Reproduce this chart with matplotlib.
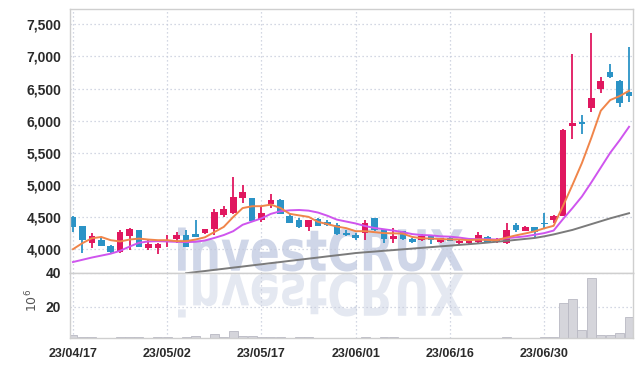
import numpy as np
import matplotlib
matplotlib.use('Agg')
import matplotlib.pyplot as plt
from matplotlib.textpath import TextPath
from matplotlib.patches import PathPatch
from matplotlib.font_manager import FontProperties, fontManager
from matplotlib.transforms import Affine2D, IdentityTransform
from matplotlib.ticker import FuncFormatter

# ---------------- data ----------------
dates = ['23/04/17', '23/04/18', '23/04/19', '23/04/20', '23/04/21', '23/04/24', '23/04/25', '23/04/26',
         '23/04/27', '23/04/28', '23/05/02', '23/05/03', '23/05/04', '23/05/08', '23/05/09', '23/05/10',
         '23/05/11', '23/05/12', '23/05/15', '23/05/16', '23/05/17', '23/05/18', '23/05/19', '23/05/22',
         '23/05/23', '23/05/24', '23/05/25', '23/05/26', '23/05/30', '23/05/31', '23/06/01', '23/06/02',
         '23/06/05', '23/06/07', '23/06/08', '23/06/09', '23/06/12', '23/06/13', '23/06/14', '23/06/15',
         '23/06/16', '23/06/19', '23/06/20', '23/06/21', '23/06/22', '23/06/23', '23/06/26', '23/06/27',
         '23/06/28', '23/06/29', '23/06/30', '23/07/03', '23/07/04', '23/07/05', '23/07/06', '23/07/07',
         '23/07/10', '23/07/11', '23/07/12', '23/07/13']

opens = [4505, 4360, 4090, 4140, 4045, 3950, 4210, 4297, 4025, 4025,
         4130, 4160, 4215, 4235, 4245, 4307, 4531, 4557, 4800, 4790,
         4453, 4703, 4765, 4515, 4453, 4340, 4465, 4430, 4375, 4245,
         4220, 4245, 4480, 4307, 4155, 4280, 4165, 4150, 4208, 4115,
         4177, 4089, 4089, 4114, 4183, 4125, 4089, 4375, 4286, 4340,
         4405, 4453, 4515, 5920, 5965, 6205, 6500, 6760, 6625, 6440]
closes = [4345, 4140, 4200, 4050, 3950, 4270, 4312, 4036, 4078, 4078,
          4150, 4215, 4036, 4190, 4307, 4583, 4620, 4807, 4885, 4445,
          4567, 4765, 4547, 4410, 4340, 4453, 4360, 4375, 4230, 4215,
          4180, 4400, 4297, 4155, 4203, 4156, 4115, 4203, 4140, 4167,
          4130, 4130, 4130, 4219, 4114, 4135, 4297, 4297, 4340, 4270,
          4395, 4515, 5860, 5960, 5955, 6355, 6625, 6675, 6275, 6380]
highs = [4510, 4365, 4255, 4185, 4070, 4300, 4333, 4305, 4140, 4100,
         4219, 4270, 4300, 4453, 4320, 4625, 4670, 5120, 5000, 4800,
         4650, 4860, 4775, 4545, 4480, 4460, 4480, 4460, 4400, 4300,
         4250, 4460, 4490, 4310, 4323, 4290, 4170, 4240, 4215, 4175,
         4190, 4140, 4150, 4270, 4200, 4170, 4400, 4400, 4365, 4350,
         4560, 4530, 5870, 7040, 6094, 7370, 6680, 6875, 6630, 7150]
lows = [4270, 3935, 4025, 4045, 3940, 3945, 3985, 4030, 3995, 3920,
        4036, 4098, 4030, 4185, 4230, 4220, 4505, 4550, 4720, 4440,
        4430, 4640, 4540, 4405, 4335, 4285, 4355, 4360, 4225, 4210,
        4150, 4150, 4290, 4090, 4090, 4150, 4100, 4130, 4078, 4090,
        4125, 4070, 4060, 4080, 4090, 4090, 4073, 4270, 4280, 4190,
        4323, 4400, 4510, 5710, 5800, 6140, 6430, 6670, 6215, 6285]

ma_orange = [4000, 4094, 4170, 4190, 4140, 4120, 4150, 4165, 4150, 4140,
             4140, 4125, 4125, 4150, 4185, 4266, 4347, 4501, 4640, 4668,
             4670, 4694, 4642, 4550, 4526, 4503, 4425, 4390, 4352, 4327,
             4280, 4280, 4265, 4250, 4247, 4242, 4190, 4170, 4165, 4158,
             4152, 4150, 4140, 4150, 4143, 4140, 4180, 4215, 4245, 4278,
             4325, 4364, 4676, 5002, 5341, 5733, 6155, 6321, 6383, 6466]
ma_magenta = [3800, 3835, 3870, 3900, 3930, 3975, 4040, 4100, 4120, 4125,
              4120, 4115, 4110, 4115, 4135, 4175, 4220, 4280, 4380, 4430,
              4480, 4550, 4590, 4605, 4610, 4600, 4570, 4520, 4460, 4430,
              4400, 4360, 4330, 4310, 4290, 4265, 4235, 4220, 4215, 4200,
              4195, 4180, 4160, 4155, 4155, 4150, 4170, 4185, 4200, 4225,
              4250, 4290, 4470, 4640, 4820, 5040, 5270, 5500, 5695, 5905]
ma_gray = [np.nan] * 12 + [
              3625, 3643, 3660, 3678, 3695, 3713, 3730, 3748,
              3765, 3783, 3800, 3818, 3835, 3853, 3870, 3888, 3905, 3922,
              3940, 3952, 3963, 3975, 3986, 3998, 4009, 4021, 4032, 4044,
              4055, 4067, 4078, 4090, 4103, 4117, 4130, 4145, 4160, 4175,
              4200, 4230, 4265, 4300, 4345, 4390, 4435, 4480, 4520, 4560]

volume_m = [3.8, 2.3, 2.3, 1.0, 1.0, 2.2, 2.2, 2.2, 1.0, 2.2,
            2.2, 1.0, 2.2, 2.8, 1.0, 4.0, 2.3, 5.9, 3.0, 3.0,
            2.2, 2.2, 2.2, 1.0, 2.2, 2.2, 1.0, 1.0, 1.0, 1.0,
            1.0, 2.2, 1.0, 2.2, 2.2, 1.0, 1.0, 1.0, 1.0, 1.0,
            1.0, 1.0, 1.0, 1.0, 1.0, 1.0, 2.2, 1.0, 1.0, 1.0,
            2.2, 2.2, 22.4, 24.7, 6.5, 36.6, 3.6, 3.6, 4.6, 14.0]

price_ticks = [4000, 4500, 5000, 5500, 6000, 6500, 7000, 7500]
vol_ticks = [20, 40]
label_step = 10

# ---------------- style ----------------
UP = '#e0175f'
DOWN = '#2b93c6'
ORANGE = '#f0854a'
MAGENTA = '#cf55ee'
GRAY = '#7b7b7b'
GRID = '#c5cadb'
SPINE = '#cfcfcf'

names = {f.name for f in fontManager.ttflist}
if 'Liberation Sans Narrow' in names:
    tick_family = ['Liberation Sans Narrow', 'DejaVu Sans']
    ysize, xsize = 11.5, 10.5
else:
    tick_family = ['Liberation Sans', 'DejaVu Sans']
    ysize, xsize = 10, 9
plt.rcParams['font.family'] = tick_family

W, H = 643, 366
fig = plt.figure(figsize=(W / 100, H / 100), dpi=100)
L, R = 69.5, 633.0
T, M, B = 9.3, 272.5, 338.0
ax = fig.add_axes([L / W, (H - M) / H, (R - L) / W, (M - T) / H])
axv = fig.add_axes([L / W, (H - B) / H, (R - L) / W, (B - M) / H], sharex=ax)

x = np.arange(len(dates))
o = np.array(opens, float)
c = np.array(closes, float)
hi = np.array(highs, float)
lo = np.array(lows, float)
up = c >= o
cols = np.where(up, UP, DOWN)

# wicks and bodies
ax.vlines(x, lo, hi, colors=cols, linewidth=1.3, zorder=2)
body_bottom = np.minimum(o, c)
body_h = np.maximum(np.abs(c - o), 18)
ax.bar(x, body_h, bottom=body_bottom, width=0.7, color=cols, edgecolor='none', zorder=2.2)

# moving averages
ax.plot(x, ma_gray, color=GRAY, lw=1.4, zorder=3)
ax.plot(x, ma_magenta, color=MAGENTA, lw=1.4, zorder=3)
ax.plot(x, ma_orange, color=ORANGE, lw=1.4, zorder=3)

# volume
axv.bar(x, volume_m, width=0.95, color='#d5d5db', edgecolor='#b9b9c3', linewidth=0.6, zorder=2)

# axes config
ax.set_xlim(-0.37, len(dates) - 1 + 0.42)
ax.set_ylim(3637, 7734)
axv.set_ylim(1.8, 40.0)

ax.set_yticks(price_ticks)
ax.yaxis.set_major_formatter(FuncFormatter(lambda v, p: f'{v:,.0f}'))
axv.set_yticks(vol_ticks)
axv.set_yticklabels([str(v) for v in vol_ticks])
tick_pos = x[::label_step]
axv.set_xticks(tick_pos)
axv.set_xticklabels([dates[i] for i in tick_pos])

for a in (ax, axv):
    a.set_axisbelow(True)
    a.grid(True, color=GRID, linestyle=(0, (1, 2.2)), linewidth=0.9)
    a.tick_params(length=0, colors='#2a2a2a')
    for s in a.spines.values():
        s.set_color(SPINE)
        s.set_linewidth(1.0)
    for lab in a.get_yticklabels():
        lab.set_fontsize(ysize)
        lab.set_fontweight('bold')
ax.tick_params(axis='y', pad=6)
axv.tick_params(axis='y', pad=6)
ax.tick_params(axis='x', labelbottom=False)
axv.tick_params(axis='x', pad=7)
for lab in axv.get_xticklabels():
    lab.set_fontsize(xsize)
    lab.set_fontweight('bold')

fig.text(32 / W, 1 - 300 / H, r'$10^6$', rotation=90, ha='center', va='center',
         fontsize=9, color='#555555', family='DejaVu Sans')

# watermark with reflection
fp = FontProperties(family='DejaVu Sans', weight='bold')
tp = TextPath((0, 0), 'investCRUX', size=100, prop=fp)
bb = tp.get_extents()
sx = 285.0 / bb.width
sy = 44.0 / bb.height
x0 = 178.0
base = H - M + 1.0
tr_main = Affine2D().translate(-bb.x0, -bb.y0).scale(sx, sy).translate(x0, base)
tr_refl = Affine2D().translate(-bb.x0, -bb.y0).scale(sx, -sy).translate(x0, base - 2.0)
wm = PathPatch(tr_main.transform_path(tp), transform=IdentityTransform(),
               facecolor='#cfd6e8', edgecolor='none', zorder=0.3)
ax.add_artist(wm)
wr = PathPatch(tr_refl.transform_path(tp), transform=IdentityTransform(),
               facecolor='#e4e8f1', edgecolor='none', zorder=0.3)
axv.add_artist(wr)

fig.savefig('out.png', dpi=100)
